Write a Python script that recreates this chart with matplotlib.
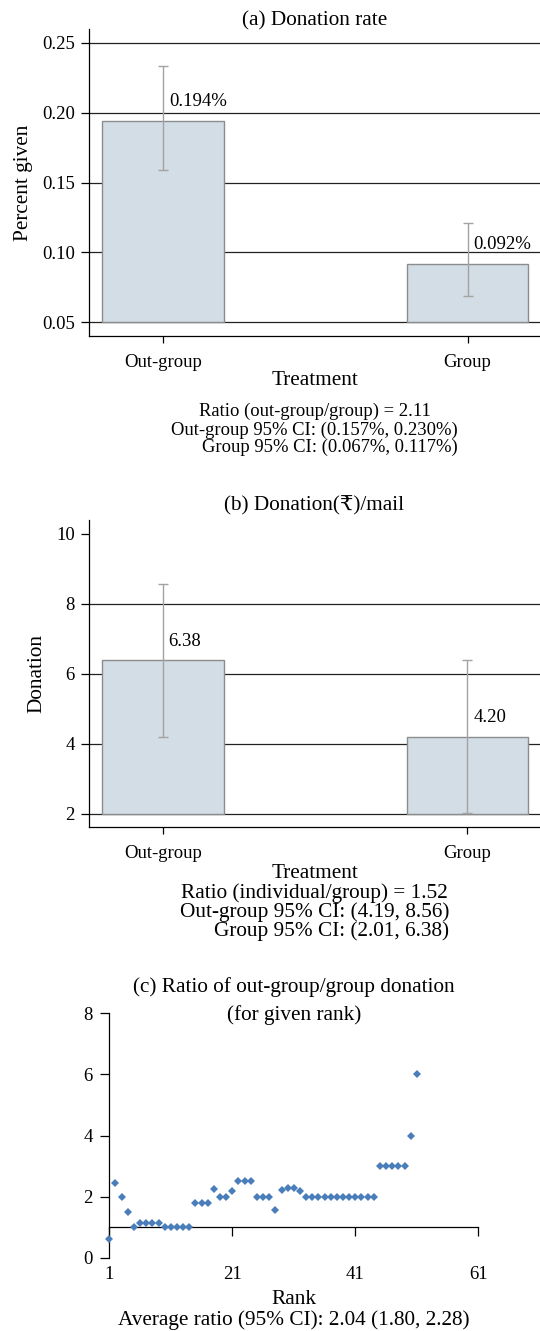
import matplotlib.pyplot as plt
from matplotlib.ticker import FormatStrFormatter

plt.rcParams['font.family'] = ['Liberation Serif', 'DejaVu Serif', 'DejaVu Sans']

W, H = 540, 1331

treatments = ["Out-group", "Group"]

# (a) donation rate, percent given
rate = [0.194, 0.092]
rate_lo = [0.1587, 0.0688]
rate_hi = [0.2336, 0.1212]
rate_labels = ["0.194%", "0.092%"]
rate_notes = ["Ratio (out-group/group) = 2.11",
              "Out-group 95% CI: (0.157%, 0.230%)",
              "Group 95% CI: (0.067%, 0.117%)"]

# (b) donation per mail
don = [6.38, 4.20]
don_lo = [4.19, 2.01]
don_hi = [8.56, 6.38]
don_labels = ["6.38", "4.20"]
don_notes = ["Ratio (individual/group) = 1.52",
             "Out-group 95% CI: (4.19, 8.56)",
             "Group 95% CI: (2.01, 6.38)"]

# (c) ratio by rank
rank = list(range(1, 52))
ratio = [0.6, 2.45, 2.0, 1.5, 1.0, 1.14, 1.14, 1.14, 1.14, 1.0,
         1.0, 1.0, 1.0, 1.0, 1.8, 1.8, 1.8, 2.25, 2.0, 2.0,
         2.2, 2.5, 2.5, 2.5, 2.0, 2.0, 2.0, 1.55, 2.23, 2.27,
         2.27, 2.18, 2.0, 2.0, 2.0, 2.0, 2.0, 2.0, 2.0, 2.0,
         2.0, 2.0, 2.0, 2.0, 3.0, 3.0, 3.0, 3.0, 3.0, 4.0,
         6.0]
rank_ticks = [1, 21, 41, 61]
avg_note = "Average ratio (95% CI): 2.04 (1.80, 2.28)"

BAR_FACE = "#d3dde6"
BAR_EDGE = "#8c8c8c"
ERR = "#a3a3a3"
DOT = "#4a7ebb"


def fx(px):
    return px / W


def fy(py):
    return 1 - py / H


fig = plt.figure(figsize=(W / 100, H / 100), dpi=100)


def bar_panel(rect, vals, lo, hi, labels, base, ylim, yticks, grid, fmt,
              title, title_y, ylabel, pad, labelpad):
    ax = fig.add_axes(rect)
    x = [0, 1]
    for g in grid:
        ax.axhline(g, color="#222222", lw=0.9, zorder=1)
    ax.bar(x, [v - base for v in vals], bottom=base, width=0.4,
           color=BAR_FACE, edgecolor=BAR_EDGE, linewidth=1, zorder=2)
    ax.errorbar(x, vals, yerr=[[v - l for v, l in zip(vals, lo)],
                               [h - v for v, h in zip(vals, hi)]],
                fmt="none", ecolor=ERR, elinewidth=1, capsize=3.6,
                capthick=1, zorder=3)
    for xi, v, s in zip(x, vals, labels):
        ax.annotate(s, (xi, v), xytext=(6, 19), textcoords="offset pixels",
                    ha="left", va="center", fontsize=13.5)
    ax.set_xlim(-0.242, 1.238)
    ax.set_ylim(*ylim)
    ax.set_yticks(yticks)
    ax.yaxis.set_major_formatter(FormatStrFormatter(fmt))
    ax.set_xticks(x)
    ax.set_xticklabels(treatments)
    for s in ["top", "right"]:
        ax.spines[s].set_visible(False)
    for s in ["left", "bottom"]:
        ax.spines[s].set_linewidth(0.9)
    ax.tick_params(axis="y", length=5.8, width=0.9, labelsize=13.5, pad=4.3)
    ax.tick_params(axis="x", length=5, width=0.9, labelsize=13.5, pad=pad)
    ax.set_ylabel(ylabel, fontsize=15.3, labelpad=7)
    ax.set_xlabel("Treatment", fontsize=15.3, labelpad=labelpad)
    cx = rect[0] + rect[2] / 2
    fig.text(cx, fy(title_y), title, ha="center", va="center", fontsize=15.3)
    return ax


def notes(lines, xc, ys, size):
    fig.text(xc, fy(ys[0]), lines[0], ha="center", va="center", fontsize=size)
    t2 = fig.text(xc, fy(ys[1]), lines[1], ha="center", va="center", fontsize=size)
    fig.canvas.draw()
    bb = t2.get_window_extent()
    fig.text(bb.x1 / W, fy(ys[2]), lines[2], ha="right", va="center", fontsize=size)


# panel (a)
rect_a = [fx(89.3), fy(335.7), fx(540 - 89.3), (335.7 - 29.3) / H]
bar_panel(rect_a, rate, rate_lo, rate_hi, rate_labels, 0.05,
          (0.0405, 0.2595), [0.05, 0.10, 0.15, 0.20, 0.25],
          [0.05, 0.10, 0.15, 0.20, 0.25], "%.2f",
          "(a) Donation rate", 20.7, "Percent given", 8, 0)
notes(rate_notes, rect_a[0] + rect_a[2] / 2, [411.7, 430, 447.5], 13.4)

# panel (b)
rect_b = [fx(89.0), fy(826.7), fx(540 - 89.0), (826.7 - 520) / H]
bar_panel(rect_b, don, don_lo, don_hi, don_labels, 2,
          (1.63, 10.39), [2, 4, 6, 8, 10], [2, 4, 6, 8], "%d",
          "(b) Donation(\u20b9)/mail", 506, "Donation", 8.5, 1.2)
notes(don_notes, rect_b[0] + rect_b[2] / 2, [893, 912.5, 931], 15.3)

# panel (c)
rect_c = [fx(109.3), fy(1257.8), fx(478.3 - 109.3), (1257.8 - 1013.3) / H]
ax = fig.add_axes(rect_c)
ax.plot(rank, ratio, linestyle="none", marker="D", markersize=3.6,
        color=DOT, markeredgewidth=0, clip_on=False, zorder=3)
ax.set_xlim(1, 61)
ax.set_ylim(0, 8)
ax.set_xticks(rank_ticks)
ax.set_yticks([0, 2, 4, 6, 8])
ax.spines["bottom"].set_position(("data", 1))
for s in ["top", "right"]:
    ax.spines[s].set_visible(False)
for s in ["left", "bottom"]:
    ax.spines[s].set_linewidth(0.9)
ax.tick_params(axis="y", length=6.3, width=0.9, labelsize=13.5, pad=5.7)
ax.tick_params(axis="x", length=6.5, width=0.9, labelsize=13.5, pad=21.7)
ax.set_xlabel("Rank", fontsize=15.3, labelpad=4.6)
cxc = rect_c[0] + rect_c[2] / 2
fig.text(cxc, fy(986.7), "(c) Ratio of out-group/group donation",
         ha="center", va="center", fontsize=15.3)
fig.text(cxc, fy(1015), "(for given rank)", ha="center", va="center",
         fontsize=15.3)
fig.text(cxc, fy(1320), avg_note, ha="center", va="center", fontsize=15.3)

fig.savefig("out.png", dpi=100)
